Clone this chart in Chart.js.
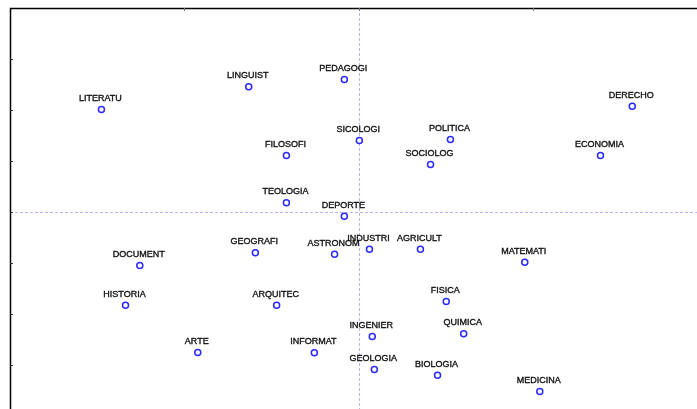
<!DOCTYPE html>
<html>
<head>
<meta charset="utf-8">
<script src="https://cdn.jsdelivr.net/npm/chart.js@4/dist/chart.umd.min.js"></script>
<style>
html,body{margin:0;padding:0;background:#fff;overflow:hidden;width:697px;height:409px;}
#wrap{width:697px;height:409px;position:relative;overflow:hidden;}
canvas{display:block;}
</style>
</head>
<body>
<div id="wrap"><canvas id="c" width="697" height="409" style="width:697px;height:409px;"></canvas></div>
<script>
const categories = ["LITERATU","LINGUIST","PEDAGOGI","DERECHO","SICOLOGI","POLITICA","FILOSOFI","ECONOMIA","SOCIOLOG","TEOLOGIA","DEPORTE","GEOGRAFI","ASTRONOM","INDUSTRI","AGRICULT","MATEMATI","DOCUMENT","HISTORIA","ARQUITEC","FISICA","INGENIER","QUIMICA","ARTE","INFORMAT","GEOLOGIA","BIOLOGIA","MEDICINA"];
const dim1 = [-0.738,-0.316,-0.042,0.783,0.001,0.262,-0.208,0.692,0.205,-0.208,-0.042,-0.297,-0.070,0.030,0.176,0.475,-0.628,-0.669,-0.236,0.250,0.038,0.300,-0.462,-0.128,0.044,0.225,0.518];
const dim2 = [1.005,1.227,1.299,1.037,0.701,0.711,0.554,0.554,0.466,0.090,-0.041,-0.400,-0.414,-0.365,-0.365,-0.492,-0.525,-0.914,-0.914,-0.877,-1.221,-1.194,-1.377,-1.380,-1.544,-1.600,-1.760];
const xTicks = [-0.5, 0, 0.5];
const yTicks = [1.5, 1.0, 0.5, 0, -0.5, -1.0, -1.5];

const points = categories.map((c,i)=>({x:dim1[i], y:dim2[i], label:c}));

const framePlugin = {
  id:'frame',
  beforeDatasetsDraw(chart){
    const {ctx, chartArea:a, scales:{x,y}} = chart;
    ctx.save();
    ctx.strokeStyle = 'rgb(180,180,240)';
    ctx.lineWidth = 1;
    ctx.setLineDash([3,2]);
    const x0 = Math.round(x.getPixelForValue(0)) + 0.5;
    const y0 = Math.round(y.getPixelForValue(0)) + 0.5;
    ctx.beginPath(); ctx.moveTo(x0, a.top); ctx.lineTo(x0, a.bottom); ctx.stroke();
    ctx.beginPath(); ctx.moveTo(a.left, y0); ctx.lineTo(a.right, y0); ctx.stroke();
    ctx.setLineDash([]);
    ctx.strokeStyle = '#000';
    ctx.lineWidth = 1.5;
    ctx.beginPath();
    ctx.moveTo(a.left+0.5, a.bottom);
    ctx.lineTo(a.left+0.5, a.top+0.5);
    ctx.lineTo(a.right, a.top+0.5);
    ctx.stroke();
    ctx.lineWidth = 1;
    ctx.strokeStyle = '#333';
    yTicks.forEach(v=>{
      const py = Math.round(y.getPixelForValue(v)) + 0.5;
      ctx.beginPath(); ctx.moveTo(a.left, py); ctx.lineTo(a.left+3, py); ctx.stroke();
    });
    ctx.strokeStyle = '#777';
    xTicks.forEach(v=>{
      const px = Math.round(x.getPixelForValue(v)) + 0.5;
      ctx.beginPath(); ctx.moveTo(px, a.top); ctx.lineTo(px, a.top+3); ctx.stroke();
    });
    ctx.restore();
  },
  afterDatasetsDraw(chart){
    const {ctx} = chart;
    const meta = chart.getDatasetMeta(0);
    ctx.save();
    ctx.font = '9px "Liberation Sans", Arial, sans-serif';
    ctx.fillStyle = '#111';
    ctx.strokeStyle = '#111';
    ctx.lineWidth = 0.35;
    ctx.textAlign = 'center';
    ctx.textBaseline = 'alphabetic';
    meta.data.forEach((el,i)=>{
      ctx.fillText(categories[i], el.x - 1, el.y - 8.5);
      ctx.strokeText(categories[i], el.x - 1, el.y - 8.5);
    });
    ctx.restore();
  }
};

new Chart(document.getElementById('c'), {
  type:'scatter',
  data:{datasets:[{
    data: points,
    pointStyle:'circle',
    pointRadius:3,
    pointHoverRadius:3,
    borderColor:'rgb(40,40,255)',
    backgroundColor:'#fff',
    borderWidth:1.5
  }]},
  options:{
    responsive:false,
    maintainAspectRatio:false,
    animation:false,
    events:[],
    layout:{autoPadding:false, padding:{left:10,top:8,right:0,bottom:0}},
    plugins:{legend:{display:false}, tooltip:{enabled:false}},
    scales:{
      x:{type:'linear', display:false, min:-1.0, max:0.9685},
      y:{type:'linear', display:false, min:-1.931, max:2.0}
    }
  },
  plugins:[framePlugin]
});
</script>
</body>
</html>
